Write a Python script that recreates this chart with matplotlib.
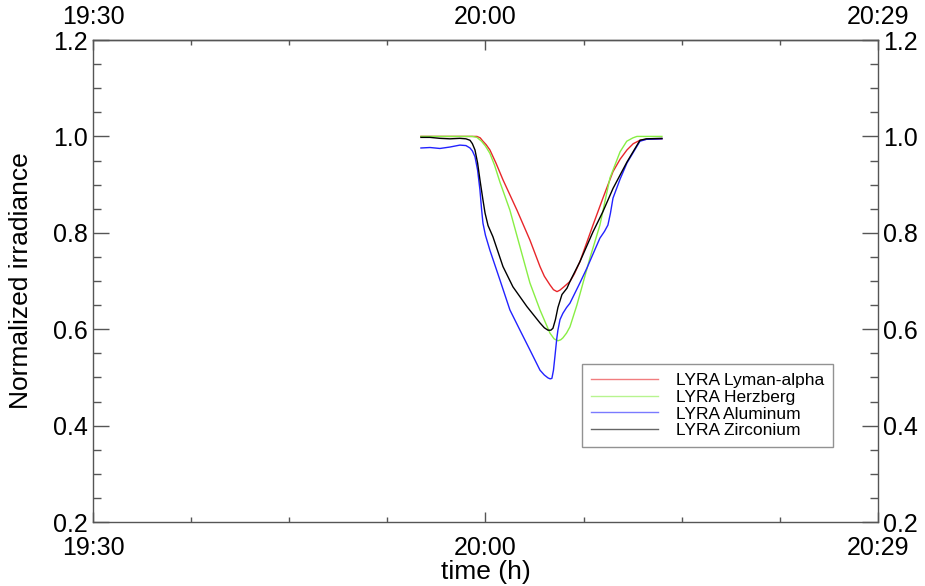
import numpy as np
import matplotlib
matplotlib.use("Agg")
import matplotlib.pyplot as plt
from matplotlib.ticker import MultipleLocator, FixedLocator, FixedFormatter

plt.rcParams['font.family'] = ['Liberation Sans', 'DejaVu Sans']

# time in minutes after 19:30
lya_t = [25.07, 28.9, 29.35, 29.6, 29.81, 30.05, 30.34, 30.8, 31.34, 32.41, 33.40, 34.17,
         34.5, 34.93, 35.2, 35.47, 35.69, 36.0, 36.46, 36.8, 37.22, 38.22, 38.98, 39.75,
         40.3, 40.82, 41.3, 41.81, 42.3, 43.49]
lya_v = [1.0, 1.0, 1.0, 0.997, 0.99, 0.983, 0.972, 0.945, 0.91, 0.847, 0.785, 0.73,
         0.71, 0.692, 0.682, 0.678, 0.681, 0.688, 0.699, 0.715, 0.74, 0.816, 0.872, 0.927,
         0.953, 0.972, 0.985, 0.992, 0.994, 0.995]

her_t = [25.07, 29.0, 29.35, 29.7, 30.0, 30.34, 30.7, 31.11, 31.87, 32.64, 33.40, 34.17,
         34.93, 35.25, 35.54, 35.75, 35.92, 36.2, 36.46, 36.99, 37.99, 38.75, 39.52,
         40.29, 40.8, 41.27, 41.58, 43.49]
her_v = [1.0, 1.0, 0.998, 0.99, 0.98, 0.965, 0.94, 0.905, 0.847, 0.771, 0.696, 0.64,
         0.592, 0.58, 0.576, 0.578, 0.582, 0.592, 0.605, 0.65, 0.748, 0.816, 0.914,
         0.968, 0.99, 0.997, 1.0, 1.0]

alu_t = [25.07, 25.76, 26.52, 27.29, 28.05, 28.51, 28.82, 29.0, 29.20, 29.4, 29.58, 29.7,
         29.81, 30.0, 30.34, 31.11, 31.87, 32.64, 33.40, 34.17, 34.5, 34.78, 34.95, 35.08,
         35.2, 35.31, 35.45, 35.54, 35.7, 35.92, 36.2, 36.46, 37.22, 37.76, 38.75, 39.1,
         39.36, 39.55, 39.75, 40.3, 40.82, 41.81, 42.3, 43.49]
alu_v = [0.976, 0.977, 0.975, 0.978, 0.982, 0.981, 0.976, 0.97, 0.958, 0.93, 0.889, 0.85,
         0.82, 0.795, 0.764, 0.702, 0.64, 0.598, 0.557, 0.515, 0.505, 0.499, 0.497, 0.498,
         0.515, 0.543, 0.58, 0.598, 0.62, 0.633, 0.645, 0.654, 0.696, 0.727, 0.789, 0.803,
         0.816, 0.84, 0.872, 0.912, 0.945, 0.99, 0.994, 0.995]

zr_t = [25.07, 25.76, 26.52, 27.29, 28.05, 28.51, 28.82, 29.0, 29.20, 29.4, 29.58, 29.8,
        29.97, 30.2, 30.57, 31.34, 32.10, 33.17, 34.17, 34.5, 34.78, 35.0, 35.16, 35.35,
        35.54, 35.85, 36.23, 36.46, 37.22, 38.22, 38.98, 39.75, 40.82, 41.81, 42.3, 43.49]
zr_v = [0.998, 0.998, 0.996, 0.995, 0.996, 0.995, 0.992, 0.985, 0.972, 0.945, 0.91, 0.87,
        0.841, 0.815, 0.792, 0.73, 0.688, 0.647, 0.613, 0.603, 0.598, 0.598, 0.602, 0.62,
        0.645, 0.672, 0.685, 0.699, 0.74, 0.802, 0.844, 0.892, 0.947, 0.992, 0.995, 0.996]

xticks = [0, 30, 60]
xlabels = ['19:30', '20:00', '20:29']

axis_grey = '#555555'

fig = plt.figure(figsize=(9.25, 5.86), dpi=100)
ax = fig.add_axes([0.1005, 0.1092, 0.8486, 0.8225])

ax.plot(lya_t, lya_v, color='#e8262a', lw=1.0, label='LYRA Lyman-alpha')
ax.plot(her_t, her_v, color='#88ee44', lw=1.0, label='LYRA Herzberg')
ax.plot(alu_t, alu_v, color='#2222ff', lw=1.0, label='LYRA Aluminum')
ax.plot(zr_t, zr_v, color='black', lw=1.0, label='LYRA Zirconium')

ax.set_xlim(0, 60)
ax.set_ylim(0.2, 1.2)
ax.xaxis.set_major_locator(FixedLocator(xticks))
ax.xaxis.set_major_formatter(FixedFormatter(xlabels))
ax.xaxis.set_minor_locator(MultipleLocator(7.5))
ax.yaxis.set_major_locator(MultipleLocator(0.2))
ax.yaxis.set_minor_locator(MultipleLocator(0.05))
ax.yaxis.set_major_formatter(plt.FormatStrFormatter('%.1f'))

ax.tick_params(axis='both', which='both', direction='in', top=False, right=True,
               labelright=True, labelsize=18, colors=axis_grey,
               labelcolor='black', width=1)
ax.tick_params(axis='x', which='major', length=6.9, pad=10)
ax.tick_params(axis='x', which='minor', length=3.5)
ax.tick_params(axis='y', which='major', length=11.3, pad=4)
ax.tick_params(axis='y', which='minor', length=5.6)
for s in ax.spines.values():
    s.set_color(axis_grey)
    s.set_linewidth(1)

# top axis with its own label spacing
secx = ax.secondary_xaxis('top')
secx.set_xticks(xticks, xlabels)
secx.xaxis.set_minor_locator(MultipleLocator(7.5))
secx.tick_params(which='both', direction='in', labelsize=18, colors=axis_grey,
                 labelcolor='black', width=1)
secx.tick_params(which='major', length=6.9, pad=8)
secx.tick_params(which='minor', length=3.5)
secx.spines['top'].set_color(axis_grey)
secx.spines['top'].set_linewidth(1)

ax.set_xlabel('time (h)', fontsize=19, labelpad=0)
ax.set_ylabel('Normalized irradiance', fontsize=19)
ax.yaxis.set_label_coords(-0.076, 0.5)

leg = ax.legend(loc='upper left', bbox_to_anchor=(0.623, 0.328),
                fontsize=12.5, frameon=True, fancybox=False,
                borderpad=0.5, labelspacing=0.1, handlelength=3.9, handletextpad=1.0,
                borderaxespad=0)
leg.get_frame().set_edgecolor('#777777')
leg.get_frame().set_linewidth(1)
for h in leg.get_lines():
    h.set_alpha(0.6)

fig.savefig('out.png', dpi=100)
